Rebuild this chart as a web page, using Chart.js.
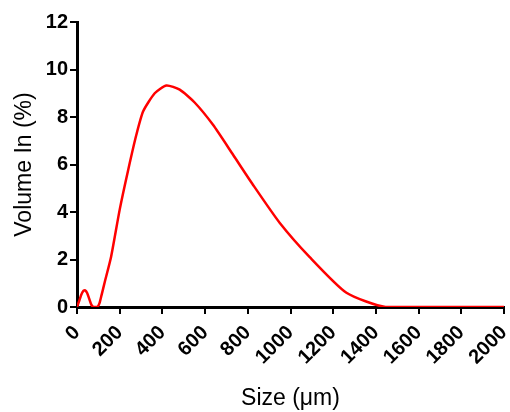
<!DOCTYPE html>
<html>
<head>
<meta charset="utf-8">
<script src="https://cdn.jsdelivr.net/npm/chart.js@4/dist/chart.umd.min.js"></script>
<style>
html,body{margin:0;padding:0;background:#fff;}
#wrap{width:510px;height:412px;position:relative;}
</style>
</head>
<body>
<div id="wrap"><canvas id="c" width="510" height="412"></canvas></div>
<script>
const sizes  = [0, 10, 20, 30, 38, 47, 57, 67, 77, 95, 105, 115, 130, 160, 200, 240, 278, 310, 364, 419, 481, 551, 637, 731, 824, 949, 1090, 1262, 1445, 2000];
const volume = [0, 0.25, 0.52, 0.68, 0.7, 0.6, 0.35, 0.1, 0, 0, 0.15, 0.5, 1.05, 2.13, 4.1, 5.78, 7.25, 8.24, 9.0, 9.33, 9.15, 8.61, 7.67, 6.41, 5.15, 3.55, 2.1, 0.6, 0, 0];
const xTicks = [0, 200, 400, 600, 800, 1000, 1200, 1400, 1600, 1800, 2000];
const yTicks = [0, 2, 4, 6, 8, 10, 12];
const xTitle = 'Size (\u03bcm)';
const yTitle = 'Volume In (%)';

const points = sizes.map((s, i) => ({x: s, y: volume[i]}));
const tickFont = {family: 'Liberation Sans, Arial, sans-serif', size: 20, weight: 'bold'};
const titleFont = {family: 'Liberation Sans, Arial, sans-serif', size: 23, weight: 'normal'};

new Chart(document.getElementById('c'), {
  type: 'line',
  data: {
    datasets: [{
      data: points,
      borderColor: '#ff0000',
      borderWidth: 2.5,
      pointRadius: 0,
      fill: false,
      tension: 0.2
    }]
  },
  options: {
    responsive: false,
    animation: false,
    layout: {padding: {top: 22, right: 6, left: 0, bottom: 0}},
    plugins: {legend: {display: false}, tooltip: {enabled: false}},
    scales: {
      x: {
        type: 'linear',
        min: 0, max: 2000,
        afterBuildTicks: s => { s.ticks = xTicks.map(v => ({value: v})); },
        afterFit: s => { s.height = 105; s.paddingLeft = 0; s.paddingRight = 0; },
        grid: {drawOnChartArea: false, drawTicks: true, tickLength: 7, color: '#000', lineWidth: 2},
        border: {color: '#000', width: 3},
        ticks: {color: '#000', font: tickFont, maxRotation: 45, minRotation: 45, padding: 7, autoSkip: false,
                callback: v => String(v)},
        title: {display: true, text: xTitle, color: '#000', font: titleFont, padding: {top: 0, bottom: 0}}
      },
      y: {
        min: 0, max: 12,
        afterBuildTicks: s => { s.ticks = yTicks.map(v => ({value: v})); },
        afterFit: s => { s.width = 77; s.paddingTop = 0; s.paddingBottom = 0; },
        grid: {drawOnChartArea: false, drawTicks: true, tickLength: 7, color: '#000', lineWidth: 2},
        border: {color: '#000', width: 3},
        ticks: {color: '#000', font: tickFont, padding: 2, callback: v => String(v)},
        title: {display: true, text: yTitle, color: '#000', font: titleFont, padding: {top: 11, bottom: 0}}
      }
    }
  }
});
</script>
</body>
</html>
